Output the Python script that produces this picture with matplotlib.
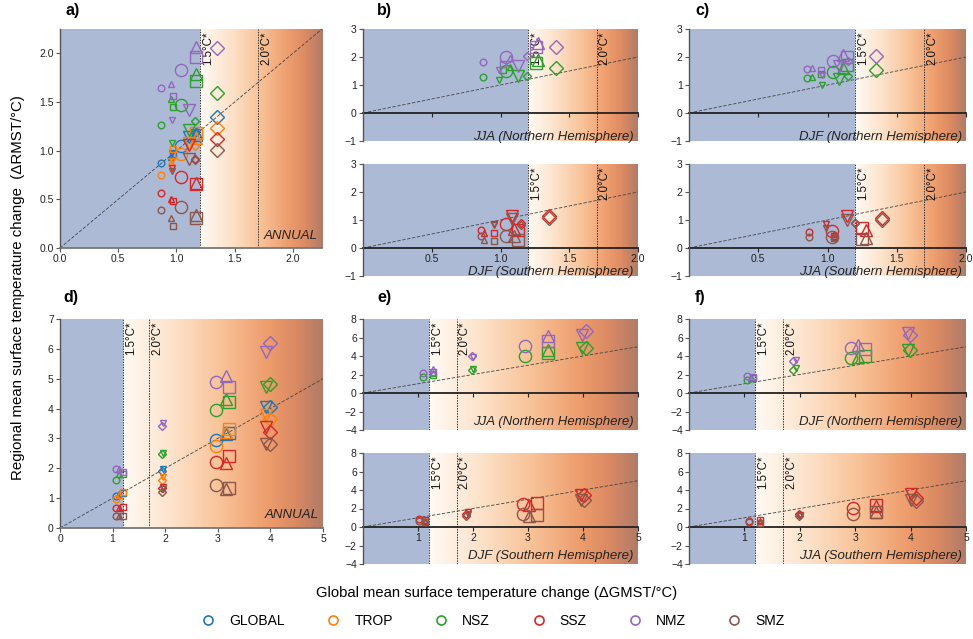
import numpy as np
import matplotlib.pyplot as plt
from matplotlib.colors import LinearSegmentedColormap
from matplotlib.lines import Line2D

plt.rcParams['font.family'] = ['Liberation Sans', 'DejaVu Sans']

W, H = 973, 639

REGIONS = ['GLOBAL', 'TROP', 'NSZ', 'SSZ', 'NMZ', 'SMZ']
COLORS = {'GLOBAL': '#1f77b4', 'TROP': '#ff7f0e', 'NSZ': '#2ca02c',
          'SSZ': '#d62728', 'NMZ': '#9467bd', 'SMZ': '#8c564b'}

# one entry per marker class (small/large open symbols)
SERIES = ['c_s', 't_s', 'q_s', 'v_s', 'c_l', 'v_l', 't_l', 'q_l', 'd_s', 'd_l']
MARKERS = {'c_s': ('o', 4.8), 't_s': ('^', 4.6), 'q_s': ('s', 4.3),
           'v_s': ('v', 4.6), 'c_l': ('o', 8.8), 'v_l': ('v', 9.0),
           't_l': ('^', 9.0), 'q_l': ('s', 8.4), 'd_s': ('D', 4.0),
           'd_l': ('D', 7.4)}

# ---- panel a (annual, 1.5 degC) ----
A_X = [0.87, 0.95, 0.97, 0.96, 1.04, 1.11, 1.17, 1.17, 1.16, 1.35]
A_Y = {
    'GLOBAL': [0.87, 0.93, 0.97, 0.98, 1.05, 1.14, 1.18, 1.16, 1.18, 1.35],
    'TROP':   [0.75, 0.88, 1.02, 0.89, 0.97, 1.08, 1.13, 1.18, 1.05, 1.23],
    'NSZ':    [1.26, 1.53, 1.45, 1.08, 1.47, 1.21, 1.79, 1.72, 1.30, 1.59],
    'SSZ':    [0.56, 0.50, 0.48, 0.82, 0.73, 1.06, 0.67, 0.66, 0.91, 1.12],
    'NMZ':    [1.64, 1.68, 1.56, 1.31, 1.83, 1.42, 2.06, 1.96, None, 2.05],
    'SMZ':    [0.39, 0.31, 0.23, 0.79, 0.42, 0.91, 0.34, 0.31, 0.90, 1.01],
}

# ---- panel b (1.5 degC) ----
B_UP_X = [0.87, 1.07, 1.02, 0.99, 1.04, 1.13, 1.27, 1.26, 1.19, 1.40]
B_UP_Y = {
    'NSZ': [1.29, 1.65, 1.55, 1.19, 1.49, 1.31, 1.90, 1.79, 1.33, 1.61],
    'NMZ': [1.81, 1.95, 1.75, 1.52, 1.99, 1.67, 2.50, 2.35, 2.05, 2.36],
}
B_LO_X = [0.86, 0.88, 0.95, 0.95, 1.04, 1.08, 1.10, 1.13, 1.15, 1.35]
B_LO_Y = {
    'SSZ': [0.63, 0.53, 0.53, 0.87, 0.87, 1.13, 0.69, 0.65, 0.89, 1.13],
    'SMZ': [0.42, 0.30, 0.24, 0.82, 0.44, 1.03, 0.42, 0.27, 0.83, 1.07],
}

# ---- panel c (1.5 degC) ----
C_UP_X = [0.85, 0.89, 0.95, 0.96, 1.04, 1.08, 1.11, 1.14, 1.15, 1.35]
C_UP_Y = {
    'NSZ': [1.24, 1.29, 1.40, 1.01, 1.45, 1.21, 1.61, 1.73, 1.33, 1.55],
    'NMZ': [1.57, 1.60, 1.55, 1.37, 1.85, 1.67, 2.08, 2.00, 1.85, 2.05],
}
C_LO_X = [0.87, 1.05, 1.05, 0.99, 1.03, 1.14, 1.28, 1.25, 1.20, 1.39]
C_LO_Y = {
    'SSZ': [0.56, 0.50, 0.44, 0.87, 0.59, 1.13, 0.65, 0.71, 0.91, 1.07],
    'SMZ': [0.39, 0.40, 0.36, 0.71, 0.39, 1.01, 0.36, 0.32, 0.89, 1.01],
}

# ---- panel d (annual, warming levels) ----
D_X = [1.06, 1.13, 1.19, 1.96, 2.96, 3.92, 3.15, 3.22, 1.93, 4.00]
D_Y = {
    'GLOBAL': [1.07, 1.15, 1.18, 1.99, 2.96, 4.04, 3.14, 3.19, 1.91, 4.04],
    'TROP':   [0.98, 1.10, 1.20, 1.71, 2.75, 3.78, 3.20, 3.31, 1.62, 3.64],
    'NSZ':    [1.60, 1.82, 1.82, 2.52, 3.96, 4.73, 4.32, 4.23, 2.47, 4.81],
    'SSZ':    [0.67, 0.67, 0.70, 1.38, 2.21, 3.37, 2.18, 2.40, 1.35, 3.22],
    'NMZ':    [1.98, 1.96, 1.88, 3.52, 4.90, 5.91, 5.09, 4.71, 3.41, 6.19],
    'SMZ':    [0.40, 0.40, 0.39, 1.29, 1.45, 2.83, 1.29, 1.35, 1.20, 2.83],
}

# ---- panel e ----
E_UP_X = [1.09, 1.28, 1.28, 2.00, 2.94, 3.99, 3.37, 3.37, 1.98, 4.06]
E_UP_Y = {
    'NSZ': [1.73, 2.20, 1.98, 2.60, 4.04, 4.86, 4.68, 4.32, 2.52, 4.86],
    'NMZ': [2.16, 2.60, 2.30, 3.86, 5.12, 6.31, 6.13, 5.59, 3.96, 6.67],
}
E_LO_X = [1.01, 1.13, 1.13, 1.90, 2.91, 3.97, 3.02, 3.17, 1.87, 4.01]
E_LO_Y = {
    'SSZ': [0.90, 0.70, 0.80, 1.60, 2.52, 3.42, 2.34, 2.59, 1.37, 3.42],
    'SMZ': [0.60, 0.50, 0.50, 1.37, 1.44, 2.95, 1.15, 1.26, 1.22, 2.95],
}

# ---- panel f ----
F_UP_X = [1.04, 1.12, 1.15, 1.94, 2.93, 3.95, 3.05, 3.17, 1.88, 3.99]
F_UP_Y = {
    'NSZ': [1.44, 1.60, 1.62, 2.70, 3.78, 4.68, 3.90, 3.96, 2.52, 4.60],
    'NMZ': [1.80, 1.75, 1.73, 3.60, 4.86, 6.49, 5.20, 4.75, 3.42, 6.30],
}
F_LO_X = [1.08, 1.29, 1.29, 2.00, 2.96, 4.00, 3.38, 3.38, 1.99, 4.09]
F_LO_Y = {
    'SSZ': [0.61, 0.70, 0.72, 1.30, 2.09, 3.60, 2.23, 2.34, 1.37, 3.17],
    'SMZ': [0.50, 0.45, 0.43, 1.20, 1.37, 2.95, 1.62, 1.62, 1.15, 2.81],
}

BLUE = '#adbad6'
warm = LinearSegmentedColormap.from_list('warm', [
    (0.0, '#fffaf4'), (0.25, '#fde2ca'), (0.5, '#f8c196'),
    (0.72, '#ee9d6d'), (0.86, '#dc8a62'), (1.0, '#b07b68')])

fig = plt.figure(figsize=(W / 100, H / 100), dpi=100)


def px_axes(left, top, right, bottom):
    return fig.add_axes([left / W, 1 - bottom / H, (right - left) / W, (bottom - top) / H])


def setup(ax, xmax, ymin, ymax, season, zero_axis, season_off):
    ax.axvspan(0, 1.2, color=BLUE, lw=0, zorder=0)
    grad = np.linspace(0, 1, 256).reshape(1, -1)
    ax.imshow(grad, cmap=warm, extent=[1.2, xmax, ymin, ymax], aspect='auto',
              interpolation='bilinear', zorder=0)
    for xv, lab in [(1.2, '1.5°C*'), (1.7, '2.0°C*')]:
        ax.axvline(xv, color='#333333', lw=0.7, ls=(0, (1.5, 1.2)), zorder=1)
        ax.annotate(lab, xy=(xv, 1), xycoords=('data', 'axes fraction'),
                    xytext=(1.5, -2), textcoords='offset points', rotation=90,
                    ha='left', va='top', fontsize=8.3, color='#111111')
    ax.plot([0, xmax], [0, xmax], color='#444444', lw=0.6, ls=(0, (4, 2)), zorder=1)
    ax.set_xlim(0, xmax)
    ax.set_ylim(ymin, ymax)
    ax.annotate(season, xy=(0.985, 0), xycoords='axes fraction',
                xytext=(0, season_off), textcoords='offset pixels',
                ha='right', va='center', fontsize=9.5, style='italic',
                color='#222222', zorder=5, annotation_clip=False)
    ax.spines['top'].set_visible(False)
    ax.spines['right'].set_visible(False)
    ax.spines['left'].set_color('#555555')
    ax.tick_params(labelsize=7.5, length=3, width=0.8, color='#555555', labelcolor='#222222',
                   pad=1.5)
    if zero_axis:
        ax.spines['bottom'].set_position(('data', 0))
        ax.spines['bottom'].set_color('#222222')
        ax.spines['bottom'].set_linewidth(1.3)
        ax.spines['bottom'].set_zorder(2)
    else:
        ax.spines['bottom'].set_color('#777777')
        ax.spines['bottom'].set_linewidth(1.3)
    ax.spines['left'].set_linewidth(1.0)


def scatter(ax, xs, ys):
    for reg, vals in ys.items():
        for s, x, y in zip(SERIES, xs, vals):
            if y is None:
                continue
            m, ms = MARKERS[s]
            ax.plot(x, y, marker=m, ms=ms, mfc='none', mec=COLORS[reg],
                    mew=1.0, ls='none', zorder=3)


# a
ax = px_axes(60, 29, 322, 248)
setup(ax, 2.25, 0, 2.25, 'ANNUAL', False, 12)
ax.set_xticks([0, 0.5, 1.0, 1.5, 2.0])
ax.set_yticks([0, 0.5, 1.0, 1.5, 2.0])
ax.xaxis.set_major_formatter('{x:.1f}')
ax.yaxis.set_major_formatter('{x:.1f}')
scatter(ax, A_X, A_Y)

# d
ax = px_axes(60, 319, 323, 528)
setup(ax, 5, 0, 7, 'ANNUAL', False, 13)
ax.set_xticks(range(6))
ax.set_yticks(range(8))
scatter(ax, D_X, D_Y)

small_panels = [
    (363, 638, 29, 141, 2, -1, 3, 'JJA (Northern Hemisphere)', B_UP_X, B_UP_Y, False),
    (363, 638, 164, 276, 2, -1, 3, 'DJF (Southern Hemisphere)', B_LO_X, B_LO_Y, True),
    (689, 966, 29, 141, 2, -1, 3, 'DJF (Northern Hemisphere)', C_UP_X, C_UP_Y, False),
    (689, 966, 164, 276, 2, -1, 3, 'JJA (Southern Hemisphere)', C_LO_X, C_LO_Y, True),
    (363, 638, 319, 430, 5, -4, 8, 'JJA (Northern Hemisphere)', E_UP_X, E_UP_Y, False),
    (363, 638, 453, 564, 5, -4, 8, 'DJF (Southern Hemisphere)', E_LO_X, E_LO_Y, True),
    (689, 966, 319, 430, 5, -4, 8, 'DJF (Northern Hemisphere)', F_UP_X, F_UP_Y, False),
    (689, 966, 453, 564, 5, -4, 8, 'JJA (Southern Hemisphere)', F_LO_X, F_LO_Y, True),
]
for l, r, t, b, xmax, ymin, ymax, season, xs, ys, show in small_panels:
    ax = px_axes(l, t, r, b)
    setup(ax, xmax, ymin, ymax, season, True, 4 if xmax == 2 else 8)
    if xmax == 2:
        ax.set_xticks([0.5, 1.0, 1.5, 2.0])
        ax.xaxis.set_major_formatter('{x:.1f}')
        ax.set_yticks(range(-1, 4))
    else:
        ax.set_xticks([1, 2, 3, 4, 5])
        ax.set_yticks(range(-4, 9, 2))
    ax.tick_params(axis='x', labelbottom=show, color='#222222')
    scatter(ax, xs, ys)

for lab, x, y in [('a)', 65, 10), ('b)', 377, 10), ('c)', 695, 10),
                  ('d)', 63, 297), ('e)', 377, 297), ('f)', 695, 297)]:
    fig.text(x / W, 1 - y / H, lab, fontsize=11.5, fontweight='bold', va='center', ha='left')

fig.text(18 / W, 1 - 288 / H, 'Regional mean surface temperature change  (ΔRMST/°C)',
         rotation=90, ha='center', va='center', fontsize=10.8)
fig.text(497 / W, 1 - 593 / H, 'Global mean surface temperature change (ΔGMST/°C)',
         ha='center', va='center', fontsize=10.6)

handles = [Line2D([], [], marker='o', ls='none', mfc='none', mec=COLORS[r], mew=1.2, ms=6.5)
           for r in REGIONS]
fig.legend(handles, REGIONS, loc='center', bbox_to_anchor=(493 / W, 1 - 621 / H),
           ncol=6, frameon=False, fontsize=10, handlelength=1.0, handletextpad=1.0,
           columnspacing=3.0)

fig.savefig('out.png', dpi=100)
